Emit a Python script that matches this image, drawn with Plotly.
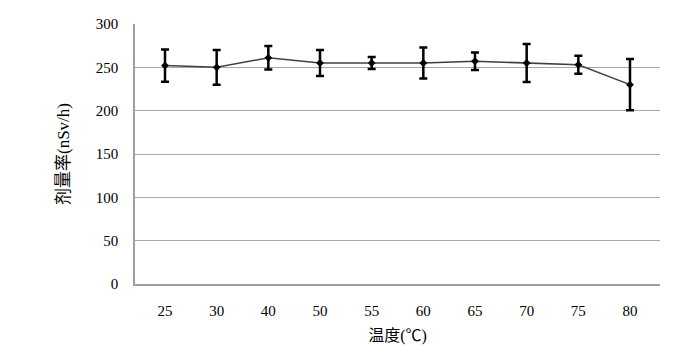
import plotly.graph_objects as go

temps = ["25", "30", "40", "50", "55", "60", "65", "70", "75", "80"]
dose = [252, 250, 261, 255, 255, 255, 257, 255, 253, 230]
err = [18.5, 20, 13.5, 15, 7, 18, 10, 22, 10.5, 29.5]
yticks = [0, 50, 100, 150, 200, 250, 300]

font_fam = "Liberation Serif, Noto Sans CJK SC, serif"

fig = go.Figure()
fig.add_trace(go.Scatter(
    x=temps, y=dose, mode="lines+markers",
    line=dict(color="#404040", width=1.5),
    marker=dict(symbol="diamond", size=6, color="black"),
    error_y=dict(type="data", array=err, visible=True, color="black", thickness=2.5, width=4),
    showlegend=False,
))

fig.update_layout(
    width=684, height=346,
    margin=dict(l=127, r=32, t=8, b=70),
    plot_bgcolor="white", paper_bgcolor="white",
    font=dict(family=font_fam, size=15, color="black"),
    xaxis=dict(
        type="category", showgrid=False, showline=True, linecolor="#a0a0a0", linewidth=1.5,
        ticks="", ticklabelstandoff=12,
        title=dict(text="温度(℃)", font=dict(family=font_fam, size=16), standoff=12),
    ),
    yaxis=dict(
        range=[0, 300], tickvals=yticks, showgrid=True, gridcolor="#a8a8a8", gridwidth=1.2,
        showline=True, linecolor="#a0a0a0", linewidth=1.5, zeroline=False,
        ticks="", ticklabelstandoff=12,
        title=dict(text="剂量率(nSv/h)", font=dict(family=font_fam, size=17), standoff=22),
    ),
)

fig.write_html("out.html")
